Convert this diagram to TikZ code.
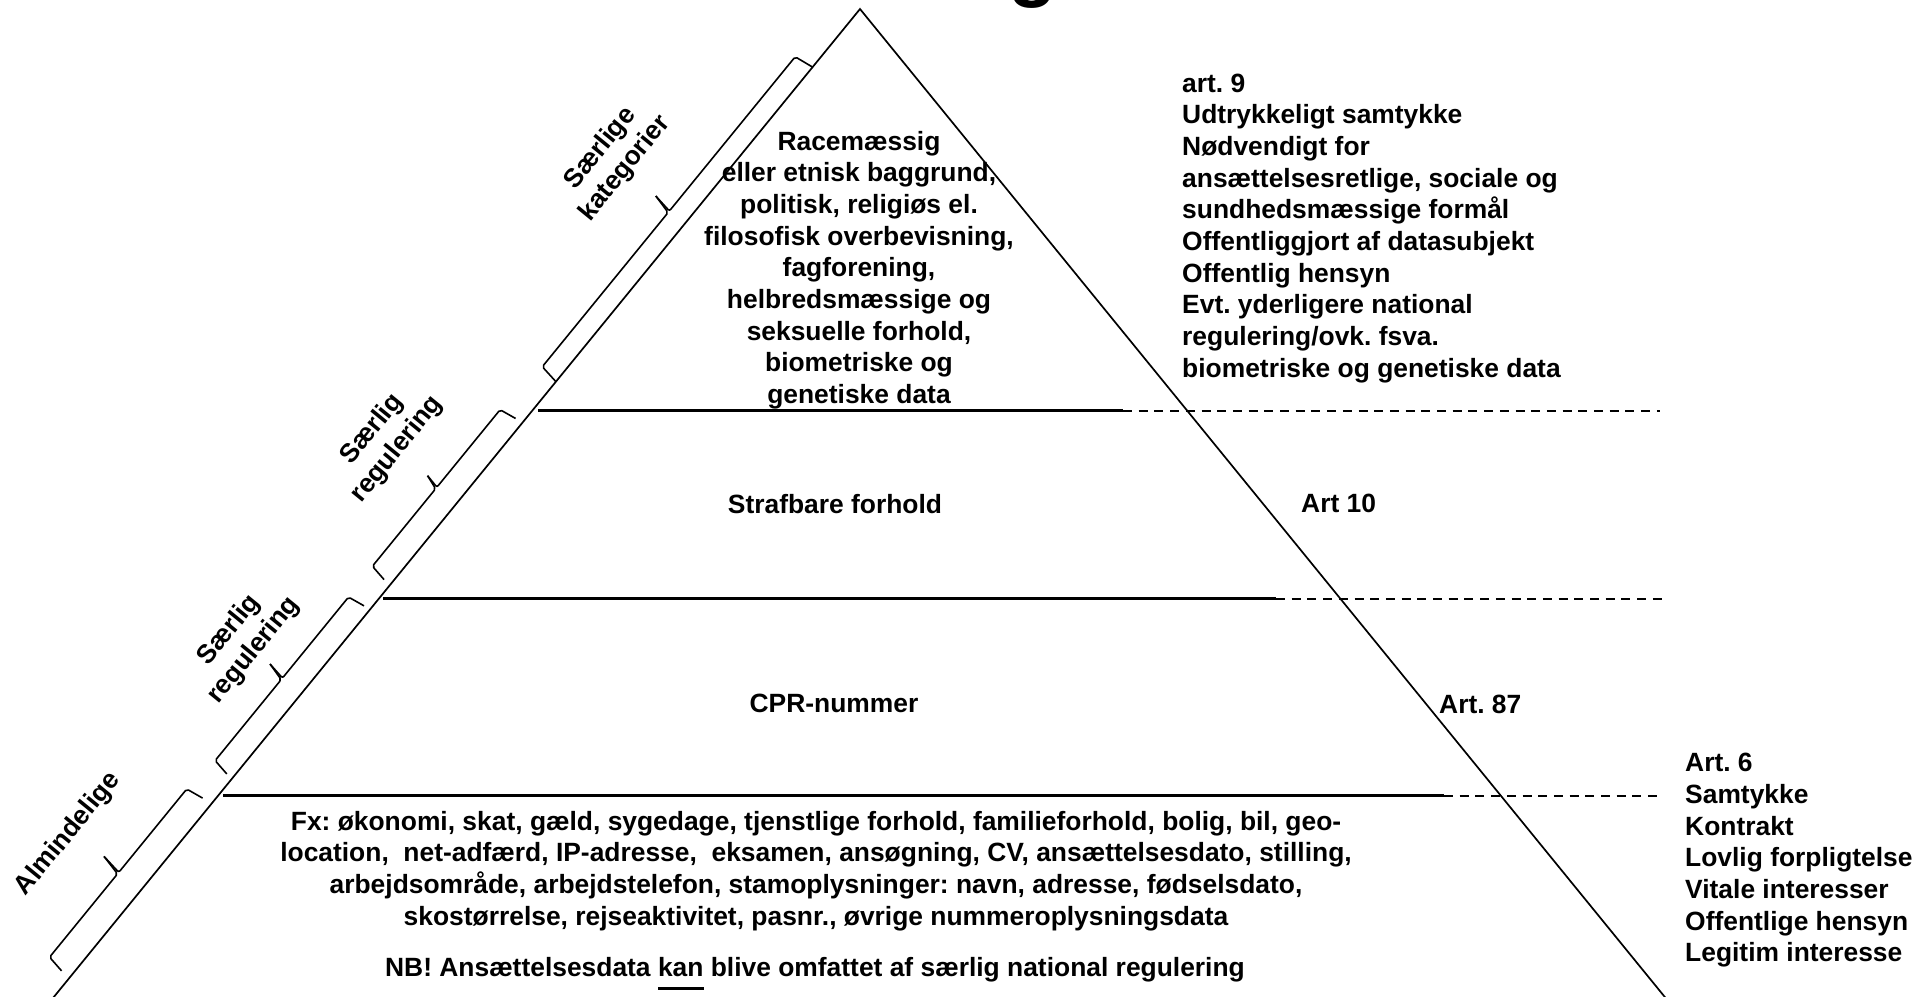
\documentclass[tikz,border=0pt]{standalone}
\usepackage{fontspec}
\setmainfont{Liberation Sans}
\frenchspacing
\newcommand\clines[1]{\vtop{\halign{\hfil##\hfil\cr#1\crcr}}}
\newcommand\llines[1]{\vtop{\halign{##\hfil\cr#1\crcr}}}
\newcommand\ulword[1]{\setbox0\hbox{#1}\rlap{\rule[-13pt]{\wd0}{2.7pt}}\box0\relax}
\newcommand\brak[5]{%
  \pgfmathsetmacro\sm{(#1+#2)/2}%
  \draw[brak] (#1,#3) -- ({#1+3},#4) -- ({\sm-1},#4) -- ({\sm-4},#5);
  \draw[brak] ({\sm-4},#5) -- ({\sm+1},#4) -- ({#2-3},#4) -- (#2,#3);}
\begin{document}
\begin{tikzpicture}[x=1pt,y=-1pt,
  txt/.style={font=\fontsize{26.4pt}{31.7pt}\selectfont\bfseries, inner sep=0pt},
  layer/.style={line width=2.4pt},
  dashline/.style={line width=2pt, dash pattern=on 9pt off 6.7pt},
  pedge/.style={line width=1.7pt},
  brak/.style={line width=1.6pt, rounded corners=2pt, line join=round},
  rot/.style={txt, rotate=50.8, align=center}]
\useasboundingbox (0,0) rectangle (1917,996);
\begin{scope}
  \clip (0,0) rectangle (1917,996);
  \node[inner sep=0pt, anchor=base west, font=\fontsize{80pt}{90pt}\selectfont\bfseries] (title) at (1008,-8.5) {g};
  \coordinate (apex) at (860,9);
  \coordinate (bl) at (43.2,1010);
  \coordinate (br) at (1675.4,1010);
  \draw[pedge, line join=miter] (bl) -- (apex) -- (br);
\end{scope}
% layer lines
\draw[layer] (538,410.5) coordinate (l1a) -- (1123,410.5) coordinate (l1b);
\draw[dashline] (l1b) -- (1660,410.5);
\draw[layer] (383,598.5) coordinate (l2a) -- (1276,598.5) coordinate (l2b);
\draw[dashline] (l2b) -- (1665,598.5);
\draw[layer] (223,795.5) coordinate (l3a) -- (1444,795.5) coordinate (l3b);
\draw[dashline] (l3b) -- (1657,795.5);
% texts
\node[txt, anchor=base] (race) at (859,150) {\clines{Racemæssig\cr
 eller etnisk baggrund,\cr politisk, religiøs el.\cr filosofisk overbevisning,\cr
 fagforening,\cr helbredsmæssige og\cr seksuelle forhold,\cr biometriske og\cr genetiske data}};
\node[txt, anchor=base west] (art9) at (1182,92) {\llines{art. 9\cr Udtrykkeligt samtykke\cr
 Nødvendigt for\cr ansættelsesretlige, sociale og\cr sundhedsmæssige formål\cr
 Offentliggjort af datasubjekt\cr Offentlig hensyn\cr Evt. yderligere national\cr
 regulering/ovk. fsva.\cr biometriske og genetiske data}};
\node[txt, anchor=base] (straf) at (835,513) {Strafbare forhold};
\node[txt, anchor=base west] (art10) at (1301,512) {Art 10};
\node[txt, anchor=base] (cpr) at (834,712) {CPR-nummer};
\node[txt, anchor=base west] (art87) at (1439,713) {Art. 87};
\node[txt, anchor=base west] (art6) at (1685,771.7) {\llines{Art. 6\cr Samtykke\cr Kontrakt\cr
 Lovlig forpligtelse\cr Vitale interesser\cr Offentlige hensyn\cr Legitim interesse}};
\node[txt, anchor=base] (fx) at (816,830) {\clines{Fx: økonomi, skat, gæld, sygedage, tjenstlige forhold, familieforhold, bolig, bil, geo-\cr
 location,\ \ net-adfærd, IP-adresse,\ \ eksamen, ansøgning, CV, ansættelsesdato, stilling,\cr
 arbejdsområde, arbejdstelefon, stamoplysninger: navn, adresse, fødselsdato,\cr
 skostørrelse, rejseaktivitet, pasnr., øvrige nummeroplysningsdata}};
\node[txt, anchor=base] (nb) at (815,976.7) {NB! Ansættelsesdata \ulword{kan} blive omfattet af særlig national regulering};
% brackets along the left edge
\begin{scope}[shift={(860,9)}, x={(-0.6322pt,-0.7748pt)}, y={(-0.7748pt,0.6322pt)}]
  \brak{75}{481}{0}{20}{40}
  \brak{535}{743}{8}{25.5}{40}
  \brak{776}{993}{7}{24.5}{43}
  \brak{1027}{1250}{10.5}{28.5}{50}
  \node[rot] (lab1) at (272,97) {Særlige\\kategorier};
  \node[rot] (lab2) at (634,96) {Særlig\\regulering};
  \node[rot] (lab3) at (880,80) {Særlig\\regulering};
  \node[rot] (lab4) at (1140,92) {Almindelige};
\end{scope}
\end{tikzpicture}
\end{document}
